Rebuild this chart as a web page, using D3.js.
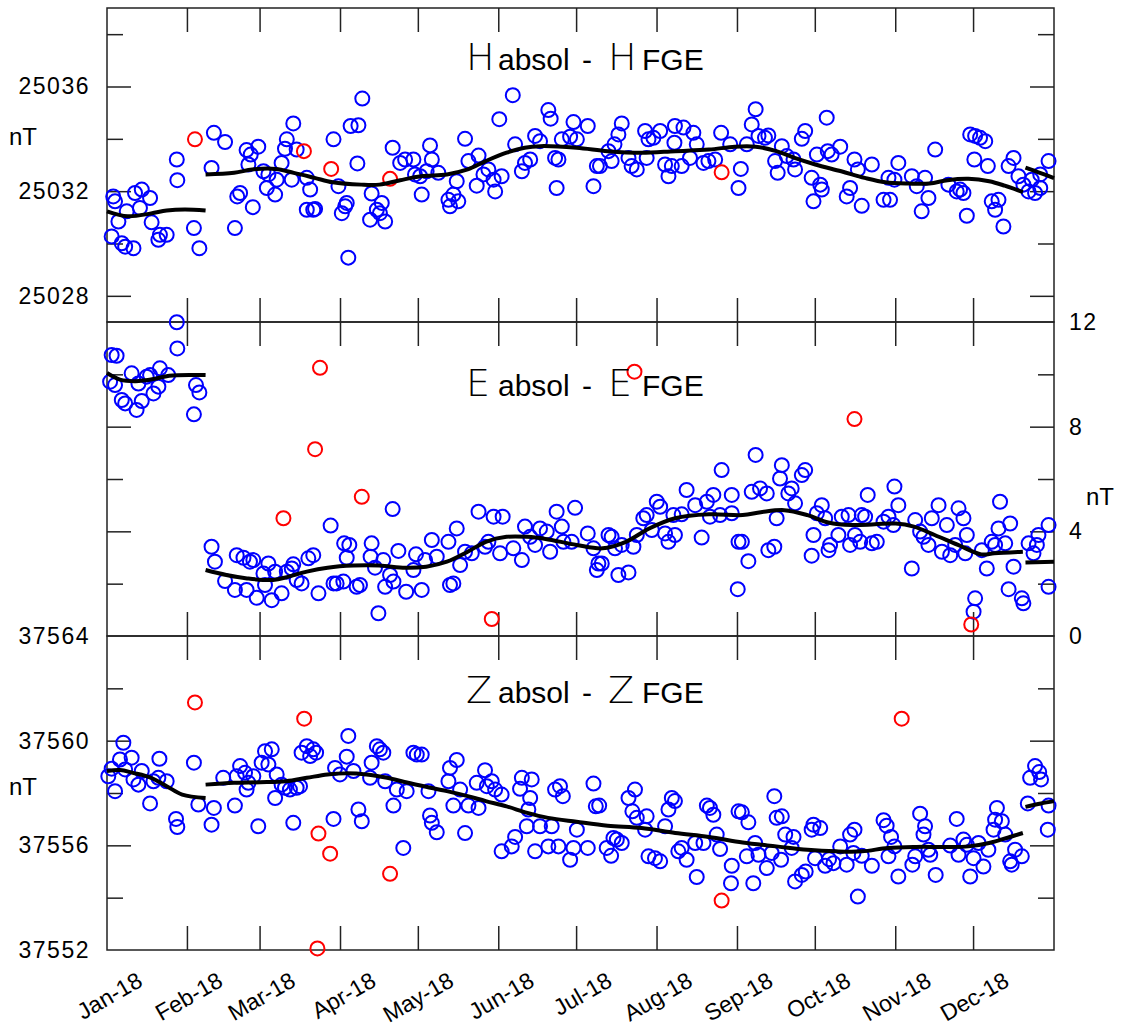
<!DOCTYPE html>
<html>
<head>
<meta charset="utf-8">
<script src="https://cdn.jsdelivr.net/npm/d3@7"></script>
<style>
  body { margin: 0; background: #fff; }
  text { font-family: "Liberation Sans", Arial, sans-serif; fill: #000; }
</style>
</head>
<body>
<div id="chart-area"></div>
<script>
// day of year (0 = 1 Jan 2018), value
const monthLabels = ['Jan-18', 'Feb-18', 'Mar-18', 'Apr-18', 'May-18', 'Jun-18', 'Jul-18', 'Aug-18', 'Sep-18', 'Oct-18', 'Nov-18', 'Dec-18']
const monthStarts = [0, 31, 59, 90, 120, 151, 181, 212, 243, 273, 304, 334]

// H absol - H FGE
const hBlue = [
  [2.4,25031.80],[3.1,25031.61],[1.8,25030.27],[4.4,25030.84],[5.7,25030.01],[7.0,25029.88],[10.2,25029.82],[7.6,25031.23],[10.8,25031.93],[13.4,25032.06],
  [12.7,25031.36],[16.6,25031.74],[17.2,25030.81],[19.8,25030.14],[20.4,25030.33],[23.0,25030.33],[26.9,25033.21],[27.1,25032.42],[33.5,25030.59],[35.6,25029.82],
  [40.3,25032.89],[41.2,25034.23],[45.5,25033.88],[49.3,25030.59],[50.2,25031.80],[51.3,25031.93],[53.8,25033.57],[55.4,25033.40],[54.5,25033.02],[56.2,25031.39],
  [58.3,25033.70],[60.3,25032.76],[61.6,25032.12],[62.2,25032.64],[64.8,25031.87],[65.4,25032.44],[67.3,25033.08],[68.6,25033.62],[69.3,25033.98],[71.8,25034.59],
  [71.2,25032.44],[73.1,25033.59],[77.0,25032.51],[78.3,25032.06],[77.0,25031.29],[79.5,25031.29],[80.2,25031.32],[87.3,25033.98],[89.2,25032.19],[90.5,25031.16],
  [91.8,25031.42],[92.4,25031.55],[93.0,25029.46],[93.9,25034.49],[96.9,25034.52],[96.5,25033.06],[98.4,25035.54],[102.0,25031.91],[101.4,25030.91],[104.0,25031.29],
  [105.2,25031.16],[105.9,25031.55],[107.2,25030.84],[110.1,25033.66],[113.0,25033.08],[114.9,25033.21],[118.1,25033.21],[118.7,25032.64],[120.7,25032.57],[121.3,25031.87],
  [124.5,25033.75],[125.2,25033.21],[123.2,25032.76],[127.7,25032.70],[131.6,25031.67],[132.2,25031.42],[133.5,25031.87],[135.4,25031.61],[134.8,25032.38],[138.0,25034.00],
  [139.3,25033.15],[142.5,25032.21],[143.2,25033.36],[145.1,25032.64],[147.0,25032.83],[149.0,25032.44],[149.6,25031.99],[152.1,25032.57],[151.2,25034.75],[156.4,25035.67],
  [157.3,25033.79],[159.9,25032.76],[161.1,25033.08],[163.1,25033.21],[165.0,25034.11],[166.9,25033.91],[170.1,25035.10],[171.0,25034.77],[172.7,25033.27],[174.0,25033.21],
  [173.3,25032.12],[175.3,25033.98],[178.5,25034.08],[179.8,25034.64],[181.1,25033.98],[185.3,25034.49],[187.5,25032.19],[188.8,25032.96],[190.0,25032.96],[193.3,25033.53],
  [194.5,25033.15],[195.6,25033.79],[197.1,25034.17],[198.4,25034.59],[201.0,25033.27],[202.2,25032.96],[204.2,25032.83],[207.4,25034.30],[208.7,25033.98],[208.0,25033.27],
  [210.6,25034.04],[213.2,25034.30],[215.1,25033.02],[216.4,25032.57],[217.7,25032.96],[218.9,25034.49],[218.7,25033.85],[221.5,25032.96],[222.2,25034.43],[224.7,25033.27],
  [226.0,25034.23],[227.3,25033.79],[229.9,25033.08],[231.8,25033.15],[234.4,25033.21],[236.7,25034.23],[240.2,25033.79],[243.4,25032.12],[244.3,25032.85],[246.6,25033.79],
  [248.5,25034.55],[250.0,25035.13],[251.1,25034.11],[253.6,25034.04],[254.9,25034.13],[257.5,25033.15],[258.5,25032.70],[260.1,25033.72],[262.0,25033.34],[264.6,25033.21],
  [265.2,25032.83],[267.8,25034.00],[269.1,25034.30],[271.6,25032.51],[272.3,25031.61],[273.6,25033.40],[275.5,25032.06],[274.9,25032.25],[277.4,25034.81],[277.8,25033.53],
  [279.3,25033.40],[282.6,25033.70],[285.1,25031.80],[286.4,25032.12],[288.1,25033.21],[289.4,25032.83],[290.9,25031.44],[294.8,25033.02],[299.3,25031.67],[301.8,25031.67],
  [301.2,25032.51],[303.5,25032.44],[305.0,25033.08],[310.2,25032.57],[312.1,25032.19],[314.0,25031.23],[315.3,25032.51],[316.6,25031.74],[319.2,25033.59],[324.3,25032.25],
  [327.5,25031.99],[328.8,25032.06],[330.1,25031.93],[331.4,25031.06],[332.7,25034.17],[334.6,25034.11],[336.5,25034.04],[338.5,25033.91],[334.3,25033.21],[339.5,25032.96],
  [341.0,25031.61],[342.3,25031.29],[343.6,25031.67],[345.5,25030.65],[347.5,25032.96],[349.4,25033.27],[351.3,25032.57],[353.2,25032.25],[355.2,25031.99],[356.4,25032.44],
  [357.7,25031.93],[359.7,25032.12],[362.9,25033.15],[359.7,25032.64]
]
const hRed = [[33.9,25033.98],[75.9,25033.53],[86.4,25032.85],[109.1,25032.47],[236.9,25032.72]]
const hFit1 = [[0,25031.23],[8,25031.04],[17,25031.15],[23,25031.26],[30,25031.30],[38,25031.26]]
const hFit2 = [
  [38,25032.64],[49,25032.70],[56,25032.83],[65,25032.85],[72,25032.70],[80,25032.51],[87,25032.34],[98,25032.25],[105,25032.25],[113,25032.42],
  [121,25032.57],[131,25032.64],[139,25032.83],[146,25033.15],[154,25033.47],[161,25033.66],[167,25033.72],[181,25033.66],[193,25033.53],[206,25033.47],
  [219,25033.53],[232,25033.59],[242,25033.70],[250,25033.70],[258,25033.53],[265,25033.27],[273,25033.02],[283,25032.76],[292,25032.51],[300,25032.34],
  [309,25032.29],[317,25032.29],[324,25032.42],[332,25032.47],[340,25032.38],[346,25032.21],[353,25031.96]
]
const hFit3 = [[354,25032.90],[359,25032.72],[365,25032.50]]

// E absol - E FGE
const eBlue = [
  [1.8,10.74],[3.7,10.71],[1.2,9.72],[3.1,9.59],[5.7,9.02],[7.0,8.89],[9.5,10.04],[11.4,8.64],[12.1,9.65],[13.4,8.98],
  [15.3,9.91],[16.6,9.97],[17.9,9.27],[19.8,9.53],[20.4,10.23],[23.6,9.97],[26.9,11.99],[27.1,10.99],[33.5,8.47],[34.3,9.59],
  [35.6,9.31],[40.3,3.41],[41.6,2.84],[45.5,2.10],[49.3,1.76],[50.0,3.09],[52.6,2.99],[53.8,1.76],[55.1,2.84],[56.4,2.90],
  [57.7,1.46],[60.3,2.39],[60.9,1.95],[62.2,2.77],[63.5,1.37],[64.8,2.46],[67.3,1.63],[69.3,2.46],[71.2,2.58],[71.8,2.74],
  [73.1,2.14],[75.0,2.01],[77.6,2.97],[79.5,3.09],[81.5,1.63],[86.2,4.22],[87.3,2.01],[88.5,2.01],[91.1,2.08],[91.4,3.54],
  [93.4,3.48],[92.4,2.99],[96.2,1.88],[97.5,1.95],[102.0,3.54],[101.6,3.03],[103.3,2.61],[104.6,0.87],[106.5,2.90],[107.2,1.88],
  [109.1,2.33],[110.4,2.08],[110.1,4.85],[112.3,3.25],[115.3,1.69],[118.1,2.52],[119.1,3.12],[121.3,1.76],[122.6,2.90],[125.2,3.67],
  [127.1,3.03],[131.6,3.60],[132.2,1.95],[133.5,2.01],[134.8,4.11],[136.1,2.71],[138.0,3.22],[140.6,3.16],[143.2,4.75],[145.7,3.41],
  [147.0,3.60],[149.0,4.56],[151.5,3.16],[152.5,4.56],[156.6,3.35],[159.9,2.90],[161.1,4.18],[163.1,3.79],[165.0,3.48],[166.9,4.11],
  [169.5,3.99],[170.8,3.22],[173.3,4.75],[175.3,4.18],[175.9,3.60],[179.1,3.60],[180.4,4.90],[185.3,3.92],[187.5,3.35],[189.4,2.77],
  [190.7,2.77],[188.8,2.52],[193.3,3.86],[194.5,3.79],[195.8,3.35],[197.1,2.33],[198.4,3.48],[201.0,2.43],[202.9,3.41],[204.2,3.86],
  [206.7,4.50],[208.0,4.62],[210.0,4.05],[211.9,5.13],[213.2,4.94],[215.1,3.92],[216.4,3.60],[218.3,4.62],[218.9,3.86],[221.5,4.65],
  [223.4,5.58],[226.7,5.00],[229.2,3.76],[231.2,5.13],[232.4,4.56],[233.7,5.39],[236.3,4.62],[236.9,6.34],[240.8,5.39],[240.8,4.69],
  [243.4,3.60],[244.7,3.60],[247.2,2.86],[243.1,1.79],[248.5,5.51],[250.0,6.92],[251.7,5.64],[254.3,5.45],[254.9,3.28],[257.2,3.41],
  [258.1,4.50],[260.1,6.53],[259.4,6.02],[262.6,5.45],[263.9,5.64],[265.2,5.07],[267.8,6.15],[269.1,6.34],[271.6,3.07],[272.3,3.86],
  [273.6,4.69],[275.5,5.00],[276.8,4.50],[278.1,3.28],[278.7,3.48],[281.9,3.86],[283.2,4.56],[285.8,4.62],[286.4,3.48],[288.3,3.86],
  [290.3,3.60],[290.9,4.62],[292.2,4.56],[293.2,5.39],[294.8,3.54],[296.7,3.60],[299.3,4.37],[301.2,4.56],[303.1,4.24],[303.5,5.71],
  [305.0,5.00],[310.2,2.58],[311.5,4.43],[313.4,3.99],[314.7,3.79],[316.6,3.48],[317.9,4.50],[320.5,5.00],[321.8,3.22],[323.7,4.24],
  [325.0,3.09],[326.9,3.48],[328.2,4.88],[330.1,4.50],[331.4,3.86],[330.8,3.16],[334.6,1.44],[334.0,0.93],[337.2,3.28],[339.1,2.58],
  [341.0,3.60],[342.3,3.48],[343.6,4.11],[344.2,5.13],[346.2,3.54],[347.5,1.79],[348.1,4.30],[349.4,2.65],[352.6,1.44],[353.2,1.25],
  [355.2,3.54],[357.1,3.16],[358.4,3.48],[359.0,3.86],[362.9,4.24],[362.9,1.88]
]
const eRed = [[68.0,4.50],[80.2,7.14],[82.1,10.25],[98.2,5.32],[148.3,0.65],[203.3,10.10],[288.1,8.29],[333.1,0.44]]
const eFit1 = [[0,10.05],[5,9.80],[11,9.74],[18,9.82],[24,9.95],[38,9.97]]
const eFit2 = [
  [38,2.52],[46,2.33],[54,2.20],[64,2.14],[70,2.27],[77,2.46],[85,2.61],[95,2.69],[105,2.69],[115,2.61],
  [123,2.65],[131,2.84],[139,3.22],[146,3.60],[154,3.79],[162,3.79],[169,3.71],[181,3.48],[191,3.35],[200,3.60],
  [209,4.11],[219,4.50],[232,4.65],[245,4.62],[252,4.73],[261,4.81],[270,4.62],[278,4.34],[287,4.24],[296,4.27],
  [304,4.30],[311,4.18],[319,3.86],[328,3.48],[337,3.12],[342,3.16],[353,3.22]
]
const eFit3 = [[354,2.81],[365,2.84]]

// Z absol - Z FGE
const zBlue = [
  [0.5,37558.64],[1.8,37558.93],[3.1,37558.07],[5.0,37559.28],[6.3,37559.92],[7.0,37558.90],[9.5,37559.35],[10.2,37558.52],[12.1,37558.32],[13.4,37558.84],
  [16.6,37557.60],[17.9,37558.45],[19.8,37558.58],[20.2,37559.31],[23.0,37558.45],[26.6,37557.01],[27.1,37556.70],[33.5,37559.16],[35.2,37557.56],[40.3,37556.79],
  [41.2,37557.43],[44.8,37558.58],[49.3,37557.52],[50.0,37558.64],[51.3,37559.03],[53.2,37558.77],[53.8,37558.13],[54.5,37558.39],[56.4,37558.64],[58.3,37556.73],
  [59.6,37559.16],[60.9,37559.60],[62.2,37559.09],[63.5,37559.67],[64.8,37557.81],[65.4,37558.71],[67.3,37558.32],[68.6,37558.20],[70.5,37558.13],[71.8,37556.86],
  [73.1,37558.20],[74.4,37558.26],[75.0,37559.54],[77.0,37559.79],[78.3,37559.41],[79.5,37559.67],[80.6,37559.54],[87.3,37557.01],[87.9,37558.96],[89.8,37558.71],
  [92.4,37559.39],[93.0,37560.18],[95.0,37558.84],[96.9,37557.37],[98.2,37556.92],[102.0,37559.16],[101.4,37558.58],[104.0,37559.79],[105.2,37559.67],[106.5,37559.54],
  [107.2,37558.45],[110.4,37557.52],[111.7,37558.13],[114.2,37555.90],[115.5,37558.07],[118.1,37559.54],[119.4,37559.47],[121.3,37559.47],[123.9,37558.07],[124.5,37557.14],
  [125.2,37556.86],[127.1,37556.50],[131.6,37558.45],[132.2,37558.96],[133.5,37557.52],[134.8,37559.26],[136.1,37558.13],[138.0,37556.47],[139.3,37557.52],[142.5,37558.39],
  [143.2,37557.43],[145.7,37558.87],[146.4,37558.26],[148.3,37558.45],[149.6,37558.13],[152.1,37557.94],[152.1,37555.77],[156.0,37555.96],[157.3,37556.32],[159.9,37558.58],
  [159.2,37558.16],[161.8,37556.73],[163.1,37557.81],[162.4,37557.37],[163.7,37558.52],[165.0,37555.77],[166.9,37556.73],[170.1,37555.96],[171.4,37556.73],[172.7,37558.13],
  [174.0,37555.96],[174.6,37558.26],[175.7,37557.88],[178.5,37555.45],[179.8,37555.90],[181.1,37556.60],[185.3,37555.90],[187.5,37558.36],[188.4,37557.49],[189.7,37557.52],
  [192.6,37555.90],[194.3,37555.60],[195.2,37556.28],[196.5,37556.22],[198.4,37556.09],[201.0,37557.81],[202.5,37557.30],[203.5,37558.13],[204.2,37557.05],[207.4,37556.60],
  [208.0,37557.11],[208.7,37555.58],[211.2,37555.51],[213.2,37555.39],[215.1,37556.73],[216.4,37557.37],[217.7,37557.81],[218.9,37557.69],[220.2,37555.77],[221.5,37555.90],
  [223.4,37555.45],[226.7,37556.09],[227.3,37554.79],[229.9,37556.09],[231.2,37557.52],[232.4,37557.43],[233.7,37557.17],[235.0,37556.41],[236.3,37555.86],[240.8,37555.22],
  [240.5,37554.55],[243.4,37557.30],[244.7,37557.26],[247.2,37556.88],[246.6,37555.58],[249.8,37556.09],[251.1,37555.64],[249.1,37554.55],[254.3,37555.13],[256.2,37555.71],
  [257.2,37557.88],[258.1,37557.05],[260.1,37557.11],[259.8,37555.45],[261.4,37556.41],[263.9,37555.90],[264.6,37556.32],[265.2,37554.62],[267.8,37554.87],[269.3,37555.00],
  [271.6,37556.60],[272.3,37556.79],[274.9,37556.66],[272.9,37555.51],[276.8,37555.22],[278.3,37555.47],[280.0,37555.32],[282.6,37555.96],[285.1,37555.26],[286.4,37556.41],
  [288.1,37556.60],[287.7,37555.71],[289.4,37554.04],[290.9,37555.60],[294.8,37555.22],[299.3,37556.96],[300.5,37556.75],[301.2,37555.58],[302.2,37556.32],[303.5,37555.96],
  [305.0,37554.81],[310.4,37555.26],[311.5,37555.58],[313.4,37557.21],[315.3,37556.73],[314.7,37556.41],[316.6,37555.83],[317.3,37555.64],[319.4,37554.87],[325.0,37555.99],
  [327.5,37557.01],[328.2,37555.64],[330.1,37556.22],[331.4,37556.02],[332.7,37554.81],[334.0,37555.51],[335.9,37556.09],[337.8,37555.19],[339.7,37555.83],[341.7,37556.60],
  [342.3,37556.98],[343.0,37557.43],[344.9,37556.92],[346.2,37556.41],[348.1,37555.39],[348.7,37555.26],[350.0,37555.83],[352.6,37555.58],[354.9,37557.60],[355.8,37558.58],
  [357.7,37559.03],[359.3,37558.80],[360.0,37558.52],[362.9,37557.52],[362.6,37556.60]
]
const zRed = [[33.9,37561.46],[76.0,37560.84],[81.5,37556.45],[86.0,37555.68],[109.1,37554.91],[81.1,37552.06],[236.9,37553.89],[306.3,37560.84]]
const zFit1 = [[0,37558.84],[5,37558.88],[10,37558.77],[17,37558.58],[23,37558.26],[29,37557.94],[38,37557.81]]
const zFit2 = [
  [38,37558.32],[49,37558.39],[59,37558.41],[69,37558.45],[77,37558.58],[85,37558.71],[92,37558.75],[100,37558.71],[108,37558.58],[116,37558.39],
  [123,37558.24],[131,37558.07],[139,37557.88],[146,37557.69],[154,37557.49],[162,37557.24],[170,37557.05],[181,37556.90],[193,37556.75],[206,37556.66],
  [219,37556.47],[232,37556.32],[245,37556.11],[258,37555.96],[270,37555.83],[281,37555.77],[291,37555.77],[301,37555.90],[312,37555.94],[322,37555.94],
  [332,37555.96],[340,37556.09],[348,37556.32],[353,37556.47]
]
const zFit3 = [[354,37557.47],[360,37557.60],[365,37557.69]]

const margin = { left: 107, top: 8 }
const width = 947
const panelH = 314

const svg = d3.select('#chart-area').append('svg')
    .attr('width', 1121)
    .attr('height', 1030)

const xScale = d3.scaleLinear()
    .domain([0, 365])
    .range([0, width])

const panels = [
    { top: 8, letter: 'H', titleY: 70, domain: [25027, 25039], major: [25028, 25032, 25036], minor: [25030, 25034, 25038],
      leftLabels: [25028, 25032, 25036], rightLabels: [], blue: hBlue, red: hRed, fits: [hFit1, hFit2, hFit3] },
    { top: 322, letter: 'E', titleY: 396, domain: [0, 12], major: [4, 8], minor: [2, 6, 10],
      leftLabels: [], rightLabels: [0, 4, 8, 12], blue: eBlue, red: eRed, fits: [eFit1, eFit2, eFit3] },
    { top: 636, letter: 'Z', titleY: 703, domain: [37552, 37564], major: [37556, 37560], minor: [37554, 37558, 37562],
      leftLabels: [37552, 37556, 37560, 37564], rightLabels: [], blue: zBlue, red: zRed, fits: [zFit1, zFit2, zFit3] }
]

const noDomain = sel => sel.select('.domain').remove()

panels.forEach(p => {
    const g = svg.append('g')
        .attr('transform', `translate(${margin.left}, ${p.top})`)

    const yScale = d3.scaleLinear()
        .domain(p.domain)
        .range([panelH, 0])

    g.append('rect')
        .attr('width', width)
        .attr('height', panelH)
        .attr('fill', 'none')
        .attr('stroke', '#222')
        .attr('stroke-width', 1.5)

    // month ticks, top and bottom, pointing in
    g.selectAll('.xt-top').data(monthStarts.slice(1)).enter().append('line')
        .attr('x1', d => xScale(d)).attr('x2', d => xScale(d))
        .attr('y1', 0).attr('y2', 24)
        .attr('stroke', '#222').attr('stroke-width', 1.5)
    g.selectAll('.xt-bot').data(monthStarts.slice(1)).enter().append('line')
        .attr('x1', d => xScale(d)).attr('x2', d => xScale(d))
        .attr('y1', panelH - 24).attr('y2', panelH)
        .attr('stroke', '#222').attr('stroke-width', 1.5)

    // y ticks on both sides
    const tickGroups = [
        [d3.axisLeft(yScale).tickValues(p.major).tickSize(-24).tickFormat(''), 0],
        [d3.axisLeft(yScale).tickValues(p.minor).tickSize(-16).tickFormat(''), 0],
        [d3.axisRight(yScale).tickValues(p.major).tickSize(-24).tickFormat(''), width],
        [d3.axisRight(yScale).tickValues(p.minor).tickSize(-16).tickFormat(''), width]
    ]
    tickGroups.forEach(([ax, tx]) => {
        g.append('g')
            .attr('transform', `translate(${tx}, 0)`)
            .call(ax)
            .call(noDomain)
            .selectAll('line').attr('stroke', '#222').attr('stroke-width', 1.5)
    })

    g.append('g')
        .call(d3.axisLeft(yScale).tickValues(p.leftLabels).tickSize(0).tickPadding(17).tickFormat(d3.format('d')))
        .call(noDomain)
        .selectAll('text')
        .attr('font-size', '23px')
        .attr('letter-spacing', '1.5px')
        .attr('fill', '#000')
        .style('font-family', '"Liberation Sans", Arial, sans-serif')

    g.append('g')
        .attr('transform', `translate(${width}, 0)`)
        .call(d3.axisRight(yScale).tickValues(p.rightLabels).tickSize(0).tickPadding(15).tickFormat(d3.format('d')))
        .call(noDomain)
        .selectAll('text')
        .attr('font-size', '23px')
        .attr('letter-spacing', '1.5px')
        .attr('fill', '#000')
        .style('font-family', '"Liberation Sans", Arial, sans-serif')

    g.selectAll('.blue').data(p.blue).enter().append('circle')
        .attr('cx', d => xScale(d[0]))
        .attr('cy', d => yScale(d[1]))
        .attr('r', 7)
        .attr('fill', 'none')
        .attr('stroke', '#0000ff')
        .attr('stroke-width', 2)

    g.selectAll('.red').data(p.red).enter().append('circle')
        .attr('cx', d => xScale(d[0]))
        .attr('cy', d => yScale(d[1]))
        .attr('r', 7)
        .attr('fill', 'none')
        .attr('stroke', '#ff0000')
        .attr('stroke-width', 2)

    const line = d3.line()
        .x(d => xScale(d[0]))
        .y(d => yScale(d[1]))
        .curve(d3.curveCatmullRom)

    p.fits.forEach(f => {
        g.append('path')
            .attr('d', line(f))
            .attr('fill', 'none')
            .attr('stroke', '#000')
            .attr('stroke-width', 4)
    })

    // title: big thin component letter, then the rest
    const big = { 'font-family': '"DejaVu Sans", sans-serif', 'font-weight': 200, 'font-size': '38px' }
    const small = { 'font-family': '"Liberation Sans", Arial, sans-serif', 'font-size': '30px' }
    const parts = [
        [p.letter, 466, big], ['absol', 498, small], ['-', 582, small], [p.letter, 608, big], ['FGE', 642, small]
    ]
    parts.forEach(([txt, tx, st]) => {
        const t = svg.append('text')
            .attr('x', tx)
            .attr('y', p.titleY)
            .text(txt)
        Object.entries(st).forEach(([k, v]) => t.style(k, v))
    })
})

// nT unit labels
const unitStyle = t => t.attr('font-size', '24px')
svg.append('text').attr('x', 9).attr('y', 145).text('nT').call(unitStyle)
svg.append('text').attr('x', 9).attr('y', 795).text('nT').call(unitStyle)
svg.append('text').attr('x', 1086).attr('y', 505).text('nT').call(unitStyle)

// month labels under the bottom panel
svg.selectAll('.month').data(monthLabels).enter().append('text')
    .attr('text-anchor', 'end')
    .attr('font-size', '23px')
    .attr('transform', (d, i) => `translate(${margin.left + xScale(monthStarts[i]) + 37}, 985) rotate(-30)`)
    .text(d => d)
</script>
</body>
</html>
